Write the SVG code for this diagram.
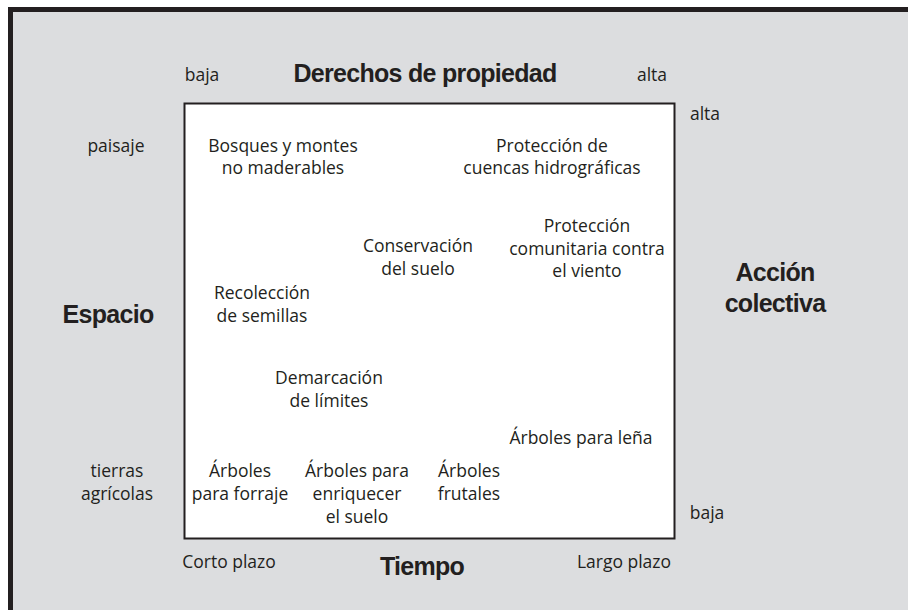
<svg xmlns="http://www.w3.org/2000/svg" width="908" height="610" viewBox="0 0 908 610">
<style>
.t{font-family:"Open Sans","Noto Sans",sans-serif;font-size:17.5px;fill:#231f20;text-anchor:middle}
.b{font-family:"Liberation Sans",Arial,sans-serif;font-weight:bold;font-size:25px;fill:#231f20;text-anchor:middle;letter-spacing:-0.7px}
</style>
<rect x="0" y="0" width="908" height="610" fill="#fff"/>
<rect x="8" y="7" width="900" height="603" fill="#dcdddf"/>
<rect x="8" y="7" width="900" height="5" fill="#231f20"/>
<rect x="8" y="7" width="5" height="603" fill="#231f20"/>
<g id="frame"><rect x="184.5" y="103.5" width="490" height="435" fill="#fff" stroke="#231f20" stroke-width="2"/></g>
<g id="axis-top">
<text class="t" x="202" y="81">baja</text>
<text class="b" x="425" y="82">Derechos de propiedad</text>
<text class="t" x="652" y="81">alta</text>
</g>
<g id="axis-right">
<text class="t" x="705" y="120">alta</text>
<text class="b" x="775" y="281">Acción</text>
<text class="b" x="775" y="312">colectiva</text>
<text class="t" x="707" y="519">baja</text>
</g>
<g id="axis-left">
<text class="t" x="116" y="152">paisaje</text>
<text class="b" x="108" y="323">Espacio</text>
<text class="t" x="117" y="477">tierras</text>
<text class="t" x="117" y="500">agrícolas</text>
</g>
<g id="axis-bottom">
<text class="t" x="229" y="568">Corto plazo</text>
<text class="b" x="422" y="575">Tiempo</text>
<text class="t" x="624" y="568">Largo plazo</text>
</g>
<g id="n-bosques"><text class="t" x="283" y="152">Bosques y montes</text><text class="t" x="283" y="174">no maderables</text></g>
<g id="n-cuencas"><text class="t" x="552" y="152">Protección de</text><text class="t" x="552" y="174">cuencas hidrográficas</text></g>
<g id="n-conservacion"><text class="t" x="418" y="252">Conservación</text><text class="t" x="418" y="275">del suelo</text></g>
<g id="n-viento"><text class="t" x="587" y="232">Protección</text><text class="t" x="587" y="255">comunitaria contra</text><text class="t" x="587" y="277">el viento</text></g>
<g id="n-semillas"><text class="t" x="262" y="299">Recolección</text><text class="t" x="262" y="322">de semillas</text></g>
<g id="n-limites"><text class="t" x="329" y="384">Demarcación</text><text class="t" x="329" y="407">de límites</text></g>
<g id="n-lena"><text class="t" x="581" y="444">Árboles para leña</text></g>
<g id="n-forraje"><text class="t" x="240" y="477">Árboles</text><text class="t" x="240" y="500">para forraje</text></g>
<g id="n-enriquecer"><text class="t" x="357" y="477">Árboles para</text><text class="t" x="357" y="500">enriquecer</text><text class="t" x="357" y="523">el suelo</text></g>
<g id="n-frutales"><text class="t" x="469" y="477">Árboles</text><text class="t" x="469" y="500">frutales</text></g>
<g id="connectors"></g>
</svg>
